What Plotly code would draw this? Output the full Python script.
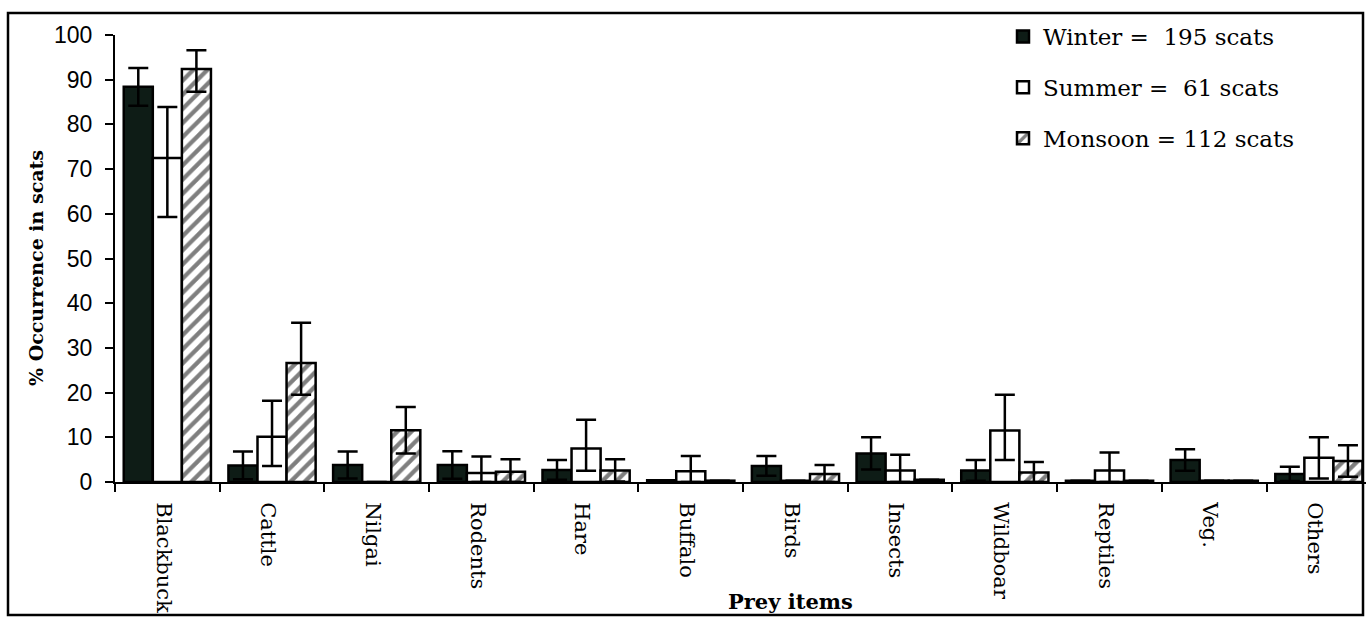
import plotly.graph_objects as go

categories = ["Blackbuck", "Cattle", "Nilgai", "Rodents", "Hare", "Buffalo",
              "Birds", "Insects", "Wildboar", "Reptiles", "Veg.", "Others"]

winter = [88.4, 3.7, 3.8, 3.8, 2.7, 0.4, 3.6, 6.4, 2.6, 0.3, 4.9, 1.8]
winter_err = [4.2, 3.1, 3.0, 3.1, 2.2, 0.0, 2.2, 3.6, 2.3, 0.0, 2.4, 1.6]

summer = [72.5, 10.1, 0.0, 2.0, 7.5, 2.4, 0.3, 2.6, 11.5, 2.6, 0.3, 5.4]
summer_err_plus = [11.4, 8.1, 0.0, 3.7, 6.4, 3.4, 0.0, 3.5, 8.0, 4.0, 0.0, 4.6]
summer_err_minus = [13.2, 6.5, 0.0, 2.0, 5.0, 2.4, 0.0, 2.6, 6.6, 2.6, 0.0, 4.6]

monsoon = [92.4, 26.6, 11.6, 2.3, 2.6, 0.3, 1.8, 0.5, 2.1, 0.3, 0.3, 4.7]
monsoon_err_plus = [4.2, 9.0, 5.2, 2.8, 2.5, 0.0, 2.0, 0.0, 2.4, 0.0, 0.0, 3.5]
monsoon_err_minus = [5.1, 7.1, 5.2, 2.3, 2.5, 0.0, 1.8, 0.0, 2.1, 0.0, 0.0, 3.5]

legend_names = ["Winter =\u00a0\u00a0195 scats", "Summer =\u00a0\u00a061 scats", "Monsoon = 112 scats"]

serif = "DejaVu Serif"
err_style = dict(type="data", color="black", thickness=2.5, width=10, symmetric=False)

fig = go.Figure()
fig.add_trace(go.Bar(
    name=legend_names[0], x=categories, y=winter, legendgroup="w",
    marker=dict(color="#0e1c16", line=dict(color="black", width=2.5)),
    error_y=dict(array=winter_err, arrayminus=winter_err, **err_style)))
fig.add_trace(go.Bar(
    name=legend_names[1], x=categories, y=summer, legendgroup="s",
    marker=dict(color="white", line=dict(color="black", width=2.5)),
    error_y=dict(array=summer_err_plus, arrayminus=summer_err_minus, **err_style)))
fig.add_trace(go.Bar(
    name=legend_names[2], x=categories, y=monsoon, legendgroup="m",
    marker=dict(color="white", line=dict(color="black", width=2.5),
                pattern=dict(shape="/", fgcolor="black", bgcolor="white",
                             size=10, solidity=0.42)),
    error_y=dict(array=monsoon_err_plus, arrayminus=monsoon_err_minus, **err_style)))

W, H = 1366, 618
ml, mr, mt, mb = 115, 0, 35, 136
pw, ph = W - ml - mr, H - mt - mb

def px_x(p):
    return (p - ml) / pw

def px_y(p):
    return (H - mb - p) / ph

fig.update_layout(
    width=W, height=H,
    margin=dict(l=ml, r=mr, t=mt, b=mb, pad=0, autoexpand=False),
    paper_bgcolor="white", plot_bgcolor="white",
    barmode="group", bargap=0.167, bargroupgap=0,
    showlegend=True,
    legend=dict(x=px_x(1003), y=px_y(15), xanchor="left", yanchor="top",
                font=dict(family=serif, size=23, color="black"),
                tracegroupgap=18, traceorder="grouped",
                bgcolor="rgba(0,0,0,0)", borderwidth=0),
    xaxis=dict(type="category", range=[-0.5, 11.45], showline=True,
               linecolor="black", linewidth=2, ticks="outside",
               tickson="boundaries", ticklen=8, tickwidth=2, tickcolor="black",
               tickangle=90, tickfont=dict(family=serif, size=21, color="black"),
               ticklabelstandoff=14, ticklabelshift=-4, automargin=False,
               showgrid=False, zeroline=False),
    yaxis=dict(range=[0, 100], tickvals=list(range(0, 101, 10)), showline=True,
               linecolor="black", linewidth=2, ticks="outside", ticklen=8,
               tickwidth=2, tickcolor="black", automargin=False,
               tickfont=dict(family="Liberation Sans", size=23, color="black"),
               ticklabelstandoff=8, showgrid=False, zeroline=False),
    annotations=[
        dict(text="<b>% Occurrence in scats</b>", textangle=-90,
             x=px_x(36), y=px_y(268), xref="paper", yref="paper",
             xanchor="center", yanchor="middle",
             showarrow=False, font=dict(family=serif, size=19, color="black")),
        dict(text="<b>Prey items</b>", x=px_x(790), y=px_y(601),
             xref="paper", yref="paper", xanchor="center", yanchor="middle",
             showarrow=False, font=dict(family=serif, size=21, color="black")),
    ],
    shapes=[dict(type="rect", xref="paper", yref="paper",
                 x0=px_x(8), x1=px_x(1363), y0=px_y(615), y1=px_y(13),
                 line=dict(color="black", width=2.5), fillcolor="rgba(0,0,0,0)",
                 layer="above")],
)

fig.write_html("out.html")
